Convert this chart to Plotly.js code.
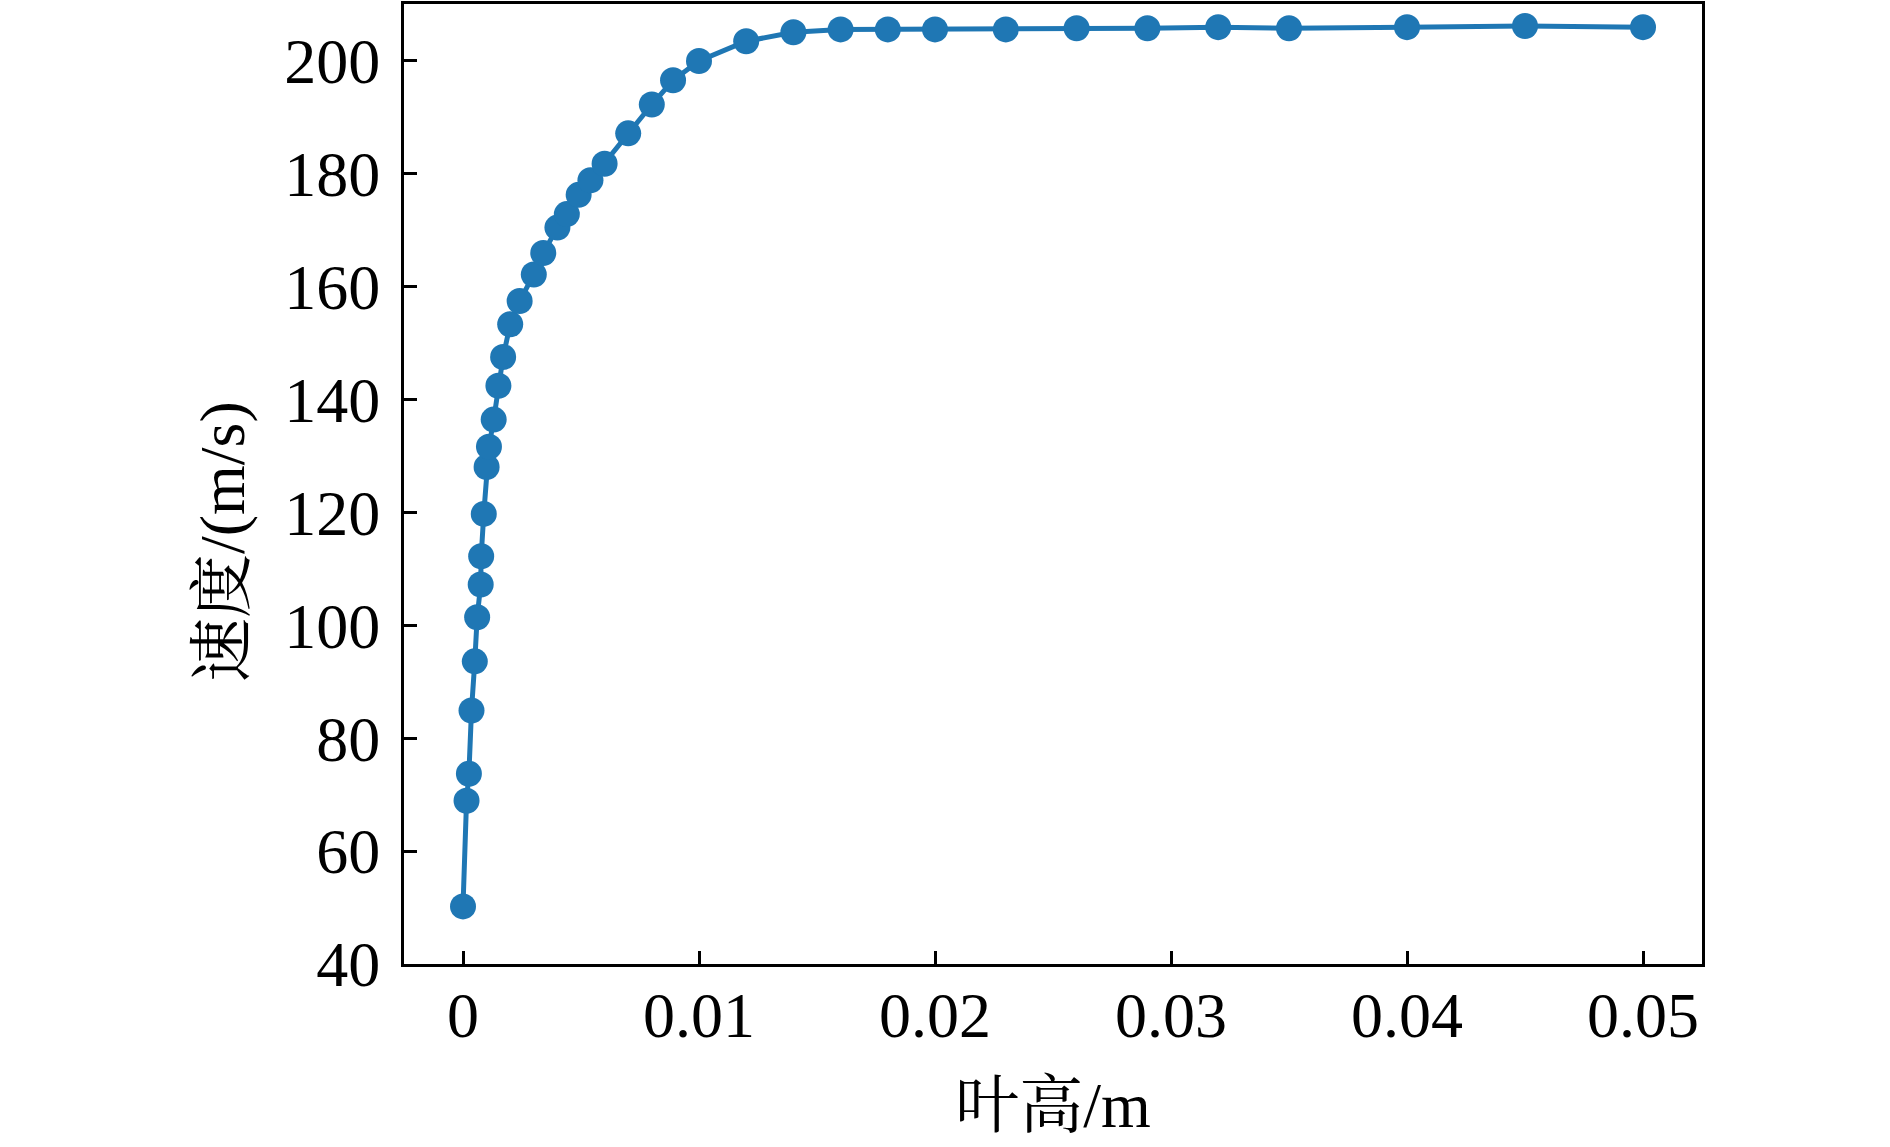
<!DOCTYPE html>
<html>
<head>
<meta charset="utf-8">
<script src="https://cdn.plot.ly/plotly-3.0.1.min.js"></script>
<style>html,body{margin:0;padding:0;background:#fff;}#chart{width:1890px;height:1147px;}</style>
</head>
<body>
<div id="chart"></div>
<script>
const bladeHeight = [0, 0.00015, 0.00025, 0.00036, 0.0005, 0.0006, 0.00075, 0.00077, 0.00088, 0.001,
  0.0011, 0.0013, 0.0015, 0.0017, 0.002, 0.0024, 0.003, 0.0034, 0.004, 0.0044,
  0.0049, 0.0054, 0.006, 0.007, 0.008, 0.0089, 0.01, 0.012, 0.014, 0.016,
  0.018, 0.02, 0.023, 0.026, 0.029, 0.032, 0.035, 0.04, 0.045, 0.05];
const velocity = [50.2, 68.9, 73.7, 84.9, 93.6, 101.4, 107.2, 112.2, 119.7, 128.0,
  131.6, 136.4, 142.4, 147.5, 153.3, 157.4, 162.1, 165.9, 170.4, 172.8,
  176.2, 178.8, 181.7, 187.1, 192.2, 196.5, 199.9, 203.4, 205.0, 205.5,
  205.5, 205.5, 205.5, 205.7, 205.7, 205.9, 205.7, 205.9, 206.1, 205.9];
const xTickVals = [0, 0.01, 0.02, 0.03, 0.04, 0.05];
const xTickText = ['0', '0.01', '0.02', '0.03', '0.04', '0.05'];
const yTickVals = [40, 60, 80, 100, 120, 140, 160, 180, 200];
const xLabel = '叶高/m';
const yLabel = '速度/(m/s)';

const fam = 'Liberation Serif, Noto Serif CJK SC, Noto Sans CJK SC';

const trace = {
  x: bladeHeight, y: velocity, type: 'scatter', mode: 'lines+markers',
  line: {color: '#1f77b4', width: 5},
  marker: {color: '#1f77b4', size: 26},
  cliponaxis: false, hoverinfo: 'x+y'
};

const layout = {
  width: 1890, height: 1147,
  paper_bgcolor: '#fff', plot_bgcolor: '#fff',
  margin: {l: 404, r: 188, t: 4, b: 183},
  showlegend: false,
  font: {family: fam, color: '#000', size: 64},
  xaxis: {
    range: [-0.0025, 0.0525], tickvals: xTickVals, ticktext: xTickText,
    ticks: 'inside', ticklen: 13, tickwidth: 3, tickcolor: '#000',
    showline: true, linewidth: 3, linecolor: '#000', mirror: true,
    showgrid: false, zeroline: false,
    tickfont: {family: fam, size: 64, color: '#000'},
    ticklabelstandoff: -7,
    title: {text: xLabel, font: {family: fam, size: 64, color: '#000'}, standoff: 33}
  },
  yaxis: {
    range: [40, 210], tickvals: yTickVals,
    ticks: 'inside', ticklen: 13, tickwidth: 3, tickcolor: '#000',
    showline: true, linewidth: 3, linecolor: '#000', mirror: true,
    showgrid: false, zeroline: false,
    tickfont: {family: fam, size: 64, color: '#000'},
    ticklabelstandoff: 8
  },
  annotations: [{
    text: yLabel, xref: 'paper', yref: 'paper', x: -0.1394, y: 0.4396,
    xanchor: 'center', yanchor: 'middle', textangle: -90, showarrow: false,
    font: {family: fam, size: 64, color: '#000'}
  }]
};

Plotly.newPlot('chart', [trace], layout, {staticPlot: true, displayModeBar: false});
</script>
</body>
</html>
